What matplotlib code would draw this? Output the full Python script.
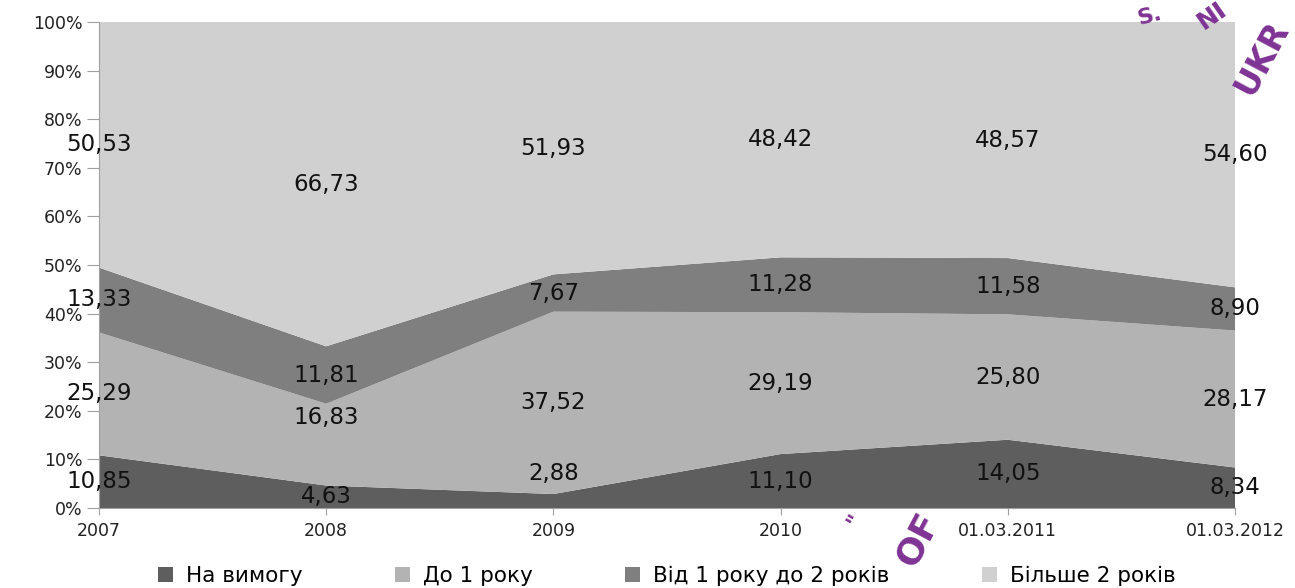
import numpy as np
import matplotlib.pyplot as plt

# categories and shares (%) per maturity group
periods = ['2007', '2008', '2009', '2010', '01.03.2011', '01.03.2012']
on_demand = [10.85, 4.63, 2.88, 11.10, 14.05, 8.34]
up_to_1y = [25.29, 16.83, 37.52, 29.19, 25.80, 28.17]
from_1_to_2y = [13.33, 11.81, 7.67, 11.28, 11.58, 8.90]
over_2y = [50.53, 66.73, 51.93, 48.42, 48.57, 54.60]
series_names = ['На вимогу', 'До 1 року', 'Від 1 року до 2 років', 'Більше 2 років']

colors = ['#5e5e5e', '#b3b3b3', '#7f7f7f', '#d0d0d0']
# labels that were dragged by hand in the original (series, period): shift in % points
label_nudge = {(1, 1): 5.6, (0, 2): 5.6}

plt.rcParams['font.family'] = ['DejaVu Sans']

fig = plt.figure(figsize=(12.95, 5.88), dpi=100)
ax = fig.add_axes([0.0764, 0.136, 0.8773, 0.8266])

x = np.arange(len(periods))
data = np.array([on_demand, up_to_1y, from_1_to_2y, over_2y])
totals = data.sum(axis=0)
shares = data / totals * 100

ax.stackplot(x, shares, colors=colors, labels=series_names, linewidth=0)

# data labels in the middle of each band
bottom = np.zeros(len(periods))
for s in range(len(data)):
    for i in range(len(periods)):
        ymid = bottom[i] + shares[s, i] / 2 + label_nudge.get((s, i), 0)
        ax.text(x[i], ymid, f'{data[s, i]:.2f}'.replace('.', ','),
                ha='center', va='center', fontsize=16.5, color='#111111')
    bottom += shares[s]

ax.set_xlim(0, len(periods) - 1)
ax.set_ylim(0, 100)
ax.set_xticks(x)
ax.set_xticklabels(periods)
ax.set_yticks(np.arange(0, 101, 10))
ax.set_yticklabels([f'{v}%' for v in range(0, 101, 10)])
ax.tick_params(axis='y', length=9, color='#a0a0a0', labelsize=12.5, labelcolor='#222222', pad=3)
ax.tick_params(axis='x', length=5, color='#a0a0a0', labelsize=12.5, labelcolor='#222222', pad=5)
for sp in ['top', 'right']:
    ax.spines[sp].set_visible(False)
for sp in ['left', 'bottom']:
    ax.spines[sp].set_color('#a0a0a0')

leg = fig.legend(loc='lower center', bbox_to_anchor=(0.515, -0.03), ncol=4,
                 frameon=False, fontsize=15.5, handlelength=0.7, handleheight=0.7,
                 handletextpad=0.6, columnspacing=4.3)

# purple stamp watermark fragments
wm = dict(color='#7e3394', fontweight='bold', ha='center', va='center', zorder=10)
fig.text(1262 / 1295, 1 - 58 / 588, 'UKR', rotation=62, fontsize=24, **wm)
fig.text(1212 / 1295, 1 - 16 / 588, 'NI', rotation=35, fontsize=18, **wm)
fig.text(1150 / 1295, 1 - 16 / 588, 'S.', rotation=15, fontsize=16, **wm)
fig.text(918 / 1295, 1 - 540 / 588, 'OF', rotation=62, fontsize=26, **wm)
fig.text(855 / 1295, 1 - 520 / 588, '"', rotation=60, fontsize=16, **wm)

fig.savefig('out.png', dpi=100)
